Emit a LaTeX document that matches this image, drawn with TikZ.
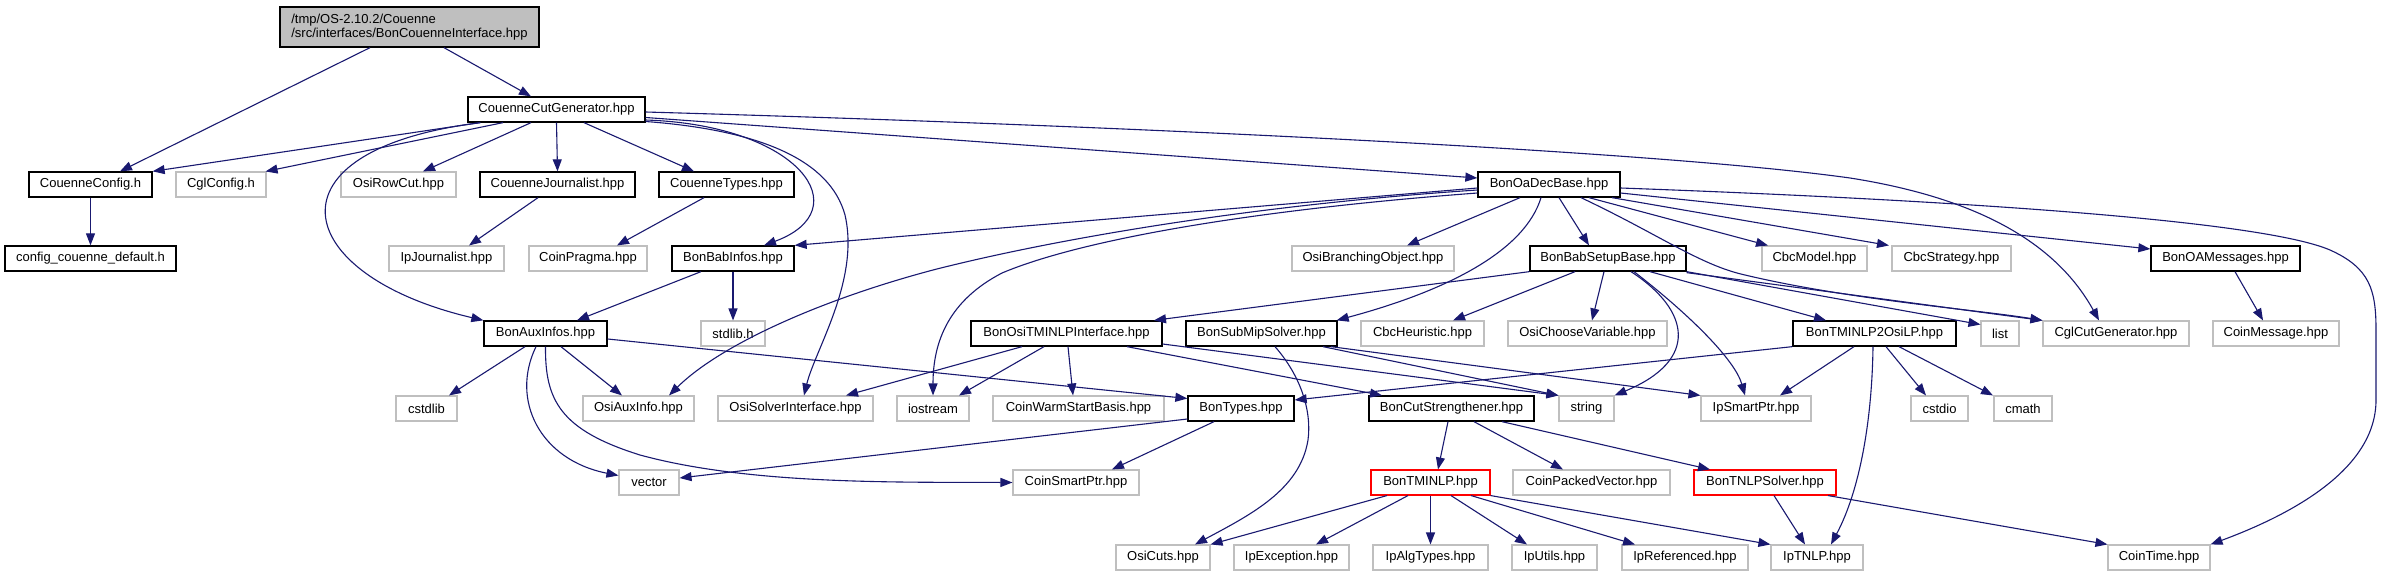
\documentclass[tikz,border=0pt]{standalone}
\usepackage{fontspec}
\setmainfont{Liberation Sans}
\usetikzlibrary{arrows.meta}
\definecolor{edgec}{HTML}{191970}
\definecolor{greyb}{HTML}{BFBFBF}
\tikzset{
  box/.style={draw, rectangle, minimum height=25pt, inner sep=0pt, font=\fontsize{13}{14}\selectfont},
  docbox/.style={box, draw=black, line width=1.3pt},
  extbox/.style={box, draw=greyb, line width=1.1pt},
  redbox/.style={box, draw=red, line width=1.1pt},
  dep/.style={draw=edgec, line width=1.1pt, -{Triangle[length=12pt,width=9pt]}}
}
\begin{document}
\begin{tikzpicture}[x=1pt,y=-1pt]
\fill[white] (0,0) rectangle (2383,576);
\useasboundingbox (0,0) rectangle (2383,576);
% row 1
\node[box, draw=black, fill=greyb, line width=1.3pt, minimum width=259pt, minimum height=40pt, align=left] (top) at (409.5,27) {/tmp/OS-2.10.2/Couenne\\/src/interfaces/BonCouenneInterface.hpp};
% row 2
\node[docbox, minimum width=177pt] (ccg) at (556.5,109.5) {CouenneCutGenerator.hpp};
% row 3
\node[docbox, minimum width=123pt] (ccfg) at (90.5,184.5) {CouenneConfig.h};
\node[extbox, minimum width=90pt] (cglcfg) at (221,184.5) {CglConfig.h};
\node[extbox, minimum width=115pt] (osirowcut) at (398.5,184.5) {OsiRowCut.hpp};
\node[docbox, minimum width=155pt] (cjour) at (557.5,184.5) {CouenneJournalist.hpp};
\node[docbox, minimum width=135pt] (ctypes) at (726.5,184.5) {CouenneTypes.hpp};
\node[docbox, minimum width=142pt] (oadec) at (1549,184.5) {BonOaDecBase.hpp};
% row 4
\node[docbox, minimum width=171pt] (cdef) at (90.5,258.5) {config\_couenne\_default.h};
\node[extbox, minimum width=115pt] (ipjour) at (446.5,258.5) {IpJournalist.hpp};
\node[extbox, minimum width=118pt] (pragma) at (588,258.5) {CoinPragma.hpp};
\node[docbox, minimum width=122pt] (babinfo) at (733,258.5) {BonBabInfos.hpp};
\node[extbox, minimum width=162pt] (branch) at (1373,258.5) {OsiBranchingObject.hpp};
\node[docbox, minimum width=156pt] (babsetup) at (1608,258.5) {BonBabSetupBase.hpp};
\node[extbox, minimum width=105pt] (cbcmodel) at (1814.5,258.5) {CbcModel.hpp};
\node[extbox, minimum width=119pt] (cbcstrat) at (1951.5,258.5) {CbcStrategy.hpp};
\node[docbox, minimum width=149pt] (oamsg) at (2225.5,258.5) {BonOAMessages.hpp};
% row 5
\node[docbox, minimum width=123pt] (auxinfos) at (545.5,333.5) {BonAuxInfos.hpp};
\node[extbox, minimum width=64pt] (stdlibh) at (733,333.5) {stdlib.h};
\node[docbox, minimum width=191pt] (ositminlp) at (1066.5,333.5) {BonOsiTMINLPInterface.hpp};
\node[docbox, minimum width=151pt] (submip) at (1261.5,333.5) {BonSubMipSolver.hpp};
\node[extbox, minimum width=123pt] (cbcheur) at (1422.5,333.5) {CbcHeuristic.hpp};
\node[extbox, minimum width=159pt] (choosevar) at (1587.5,333.5) {OsiChooseVariable.hpp};
\node[docbox, minimum width=163pt] (tminlp2osilp) at (1874.5,333.5) {BonTMINLP2OsiLP.hpp};
\node[extbox, minimum width=38pt] (list) at (2000,333.5) {list};
\node[extbox, minimum width=146pt] (cglcut) at (2116,333.5) {CglCutGenerator.hpp};
\node[extbox, minimum width=126pt] (coinmsg) at (2276,333.5) {CoinMessage.hpp};
% row 6
\node[extbox, minimum width=61pt] (cstdlib) at (426.5,408.5) {cstdlib};
\node[extbox, minimum width=111pt] (osiaux) at (638.5,408.5) {OsiAuxInfo.hpp};
\node[extbox, minimum width=155pt] (osisolver) at (795.5,408.5) {OsiSolverInterface.hpp};
\node[extbox, minimum width=72pt] (iostream) at (933,408.5) {iostream};
\node[extbox, minimum width=171pt] (warmstart) at (1078.5,408.5) {CoinWarmStartBasis.hpp};
\node[docbox, minimum width=106pt] (bontypes) at (1241,408.5) {BonTypes.hpp};
\node[docbox, minimum width=165pt] (cutstr) at (1451.5,408.5) {BonCutStrengthener.hpp};
\node[extbox, minimum width=55pt] (string) at (1586.5,408.5) {string};
\node[extbox, minimum width=110pt] (ipsmart) at (1756,408.5) {IpSmartPtr.hpp};
\node[extbox, minimum width=57pt] (cstdio) at (1939.5,408.5) {cstdio};
\node[extbox, minimum width=58pt] (cmath) at (2023,408.5) {cmath};
% row 7
\node[extbox, minimum width=60pt] (vector) at (649,482.5) {vector};
\node[extbox, minimum width=126pt] (coinsmart) at (1076,482.5) {CoinSmartPtr.hpp};
\node[redbox, minimum width=119pt] (bontminlp) at (1430.5,482.5) {BonTMINLP.hpp};
\node[extbox, minimum width=157pt] (packed) at (1591.5,482.5) {CoinPackedVector.hpp};
\node[redbox, minimum width=142pt] (tnlpsolver) at (1765,482.5) {BonTNLPSolver.hpp};
% row 8
\node[extbox, minimum width=94pt] (osicuts) at (1163,557.5) {OsiCuts.hpp};
\node[extbox, minimum width=115pt] (ipexc) at (1291.5,557.5) {IpException.hpp};
\node[extbox, minimum width=115pt] (ipalg) at (1430.5,557.5) {IpAlgTypes.hpp};
\node[extbox, minimum width=85pt] (iputils) at (1554.5,557.5) {IpUtils.hpp};
\node[extbox, minimum width=126pt] (ipref) at (1685,557.5) {IpReferenced.hpp};
\node[extbox, minimum width=92pt] (iptnlp) at (1817,557.5) {IpTNLP.hpp};
\node[extbox, minimum width=102pt] (cointime) at (2159,557.5) {CoinTime.hpp};

% ---- edges ----
\draw[dep] ([xshift=-39.5pt]top.south) -- ([xshift=29.5pt]ccfg.north);
\draw[dep] ([xshift=34.5pt]top.south) -- ([xshift=-25.5pt]ccg.north);
\draw[dep] ([xshift=-76.5pt]ccg.south) -- (ccfg.north east);
\draw[dep] ([xshift=-53.5pt]ccg.south) -- ([xshift=-1pt]cglcfg.north east);
\draw[dep] ([xshift=-25.5pt]ccg.south) -- ([xshift=24.5pt]osirowcut.north);
\draw[dep] (ccg.south) -- (cjour.north);
\draw[dep] ([xshift=27.5pt]ccg.south) -- ([xshift=-32.5pt]ctypes.north);
\draw[dep] ([yshift=-10.5pt]ccg.east) .. controls (800,125) and (860,210) .. ([xshift=31pt]babinfo.north);
\draw[dep] ([xshift=-76pt]ccg.south) .. controls (260,150) and (290,275) .. (auxinfos.north west);
\draw[dep] ([yshift=-12pt]ccg.east) .. controls (760,130) and (830,160) .. (845,215) .. controls (860,280) and (815,350) .. ([xshift=8.5pt]osisolver.north);
\draw[dep] ([yshift=-8pt]ccg.east) -- ([yshift=6.5pt]oadec.west);
\draw[dep] ([yshift=-2.5pt]ccg.east) .. controls (1100,125) and (1650,150) .. (1850,178) .. controls (1990,200) and (2060,250) .. ([xshift=-17pt]cglcut.north);
\draw[dep] ([xshift=-32pt]babinfo.south) -- ([xshift=31.5pt]auxinfos.north);
\draw[dep] (babinfo.south) -- (stdlibh.north);
\draw[dep] ([yshift=-3.5pt]oadec.west) -- (babinfo.north east);
\draw[dep] ([yshift=-5.5pt]oadec.west) .. controls (1250,205) and (1050,240) .. (933,270) .. controls (820,300) and (720,345) .. ([xshift=30.5pt]osiaux.north);
\draw[dep] ([yshift=-8.5pt]oadec.west) .. controls (1250,210) and (1080,240) .. (1002,273) .. controls (950,300) and (933,340) .. (iostream.north);
\draw[dep] ([xshift=-29pt]oadec.south) -- ([xshift=34pt]branch.north);
\draw[dep] ([xshift=-8pt]oadec.south) .. controls (1525,250) and (1450,290) .. ([xshift=-1pt]submip.north east);
\draw[dep] ([xshift=10pt]oadec.south) -- ([xshift=-19pt]babsetup.north);
\draw[dep] ([xshift=40pt]oadec.south) -- ([xshift=-46.5pt]cbcmodel.north);
\draw[dep] ([xshift=63pt]oadec.south) -- ([xshift=-62.5pt]cbcstrat.north);
\draw[dep] ([xshift=32pt]oadec.south) .. controls (1660,235) and (1700,265) .. (1745,275) .. controls (1850,300) and (1980,310) .. (cglcut.north west);
\draw[dep] ([yshift=-8.5pt]oadec.east) -- ([yshift=9.5pt]oamsg.west);
\draw[dep] ([yshift=-3.5pt]oadec.east) .. controls (1950,200) and (2260,220) .. (2330,250) .. controls (2370,268) and (2376,290) .. (2376,330) -- (2376,400) .. controls (2376,470) and (2290,515) .. (cointime.north east);
\draw[dep] ([xshift=9.5pt]oamsg.south) -- ([xshift=-13pt]coinmsg.north);
\draw[dep] (babsetup.south west) -- ([xshift=87.5pt]ositminlp.north);
\draw[dep] ([xshift=-33pt]babsetup.south) -- ([xshift=30.5pt]cbcheur.north);
\draw[dep] ([xshift=-4pt]babsetup.south) -- ([xshift=4.5pt]choosevar.north);
\draw[dep] ([xshift=23pt]babsetup.south) .. controls (1690,310) and (1700,360) .. (string.north east);
\draw[dep] ([xshift=26pt]babsetup.south) .. controls (1690,315) and (1735,360) .. ([xshift=-11pt]ipsmart.north);
\draw[dep] ([xshift=42pt]babsetup.south) -- ([xshift=-48.5pt]tminlp2osilp.north);
\draw[dep] (babsetup.south east) -- ([yshift=9pt]list.west);
\draw[dep] ([yshift=-1pt]babsetup.south east) -- (cglcut.north west);
\draw[dep] (tminlp2osilp.south west) -- ([yshift=8.5pt]bontypes.east);
\draw[dep] ([xshift=-20.5pt]tminlp2osilp.south) -- ([xshift=24pt]ipsmart.north);
\draw[dep] ([xshift=-1.5pt]tminlp2osilp.south) .. controls (1872,420) and (1860,490) .. ([xshift=14pt]iptnlp.north);
\draw[dep] ([xshift=11.5pt]tminlp2osilp.south) -- ([xshift=-13.5pt]cstdio.north);
\draw[dep] ([xshift=24.5pt]tminlp2osilp.south) -- ([xshift=-30pt]cmath.north);
\draw[dep] ([xshift=-44.5pt]ositminlp.south) -- ([xshift=50.5pt]osisolver.north);
\draw[dep] ([xshift=-22.5pt]ositminlp.south) -- ([xshift=26pt]iostream.north);
\draw[dep] ([xshift=1.5pt]ositminlp.south) -- ([xshift=-5.5pt]warmstart.north);
\draw[dep] ([xshift=60.5pt]ositminlp.south) -- ([xshift=-69.5pt]cutstr.north);
\draw[dep] ([yshift=-10.5pt]ositminlp.east) -- (string.north west);
\draw[dep] ([xshift=61.5pt]submip.south) -- (string.north west);
\draw[dep] ([xshift=69.5pt]submip.south) -- (ipsmart.north west);
\draw[dep] ([xshift=13.5pt]submip.south) .. controls (1300,375) and (1312,410) .. (1308,440) .. controls (1300,490) and (1250,515) .. ([xshift=32pt]osicuts.north);
\draw[dep] ([xshift=-20.5pt]auxinfos.south) -- ([xshift=22.5pt]cstdlib.north);
\draw[dep] ([xshift=15.5pt]auxinfos.south) -- ([xshift=-16.5pt]osiaux.north);
\draw[dep] ([xshift=-9.5pt]auxinfos.south) .. controls (510,400) and (540,460) .. ([yshift=7pt]vector.west);
\draw[dep] (auxinfos.south) .. controls (545,400) and (560,430) .. (640,455) .. controls (750,485) and (900,482) .. (coinsmart.west);
\draw[dep] ([yshift=-5.5pt]auxinfos.east) -- ([yshift=10pt]bontypes.west);
\draw[dep] ([yshift=-10.5pt]bontypes.west) -- ([yshift=4.5pt]vector.east);
\draw[dep] ([xshift=-27pt]bontypes.south) -- ([xshift=36pt]coinsmart.north);
\draw[dep] ([xshift=-3.5pt]cutstr.south) -- ([xshift=7.5pt]bontminlp.north);
\draw[dep] ([xshift=22.5pt]cutstr.south) -- ([xshift=-28.5pt]packed.north);
\draw[dep] ([xshift=50.5pt]cutstr.south) -- ([xshift=-55pt]tnlpsolver.north);
\draw[dep] ([xshift=-43.5pt]bontminlp.south) -- (osicuts.north east);
\draw[dep] ([xshift=-22.5pt]bontminlp.south) -- ([xshift=24.5pt]ipexc.north);
\draw[dep] (bontminlp.south) -- (ipalg.north);
\draw[dep] ([xshift=20.5pt]bontminlp.south) -- ([xshift=-27.5pt]iputils.north);
\draw[dep] ([xshift=40.5pt]bontminlp.south) -- ([xshift=-50pt]ipref.north);
\draw[dep] (bontminlp.south east) -- (iptnlp.north west);
\draw[dep] ([xshift=9pt]tnlpsolver.south) -- ([xshift=-12pt]iptnlp.north);
\draw[dep] ([xshift=63pt]tnlpsolver.south) -- (cointime.north west);
\draw[dep] (ccfg.south) -- (cdef.north);
\draw[dep] ([xshift=-19.5pt]cjour.south) -- ([xshift=22.5pt]ipjour.north);
\draw[dep] ([xshift=-22.5pt]ctypes.south) -- ([xshift=29pt]pragma.north);
\end{tikzpicture}
\end{document}
